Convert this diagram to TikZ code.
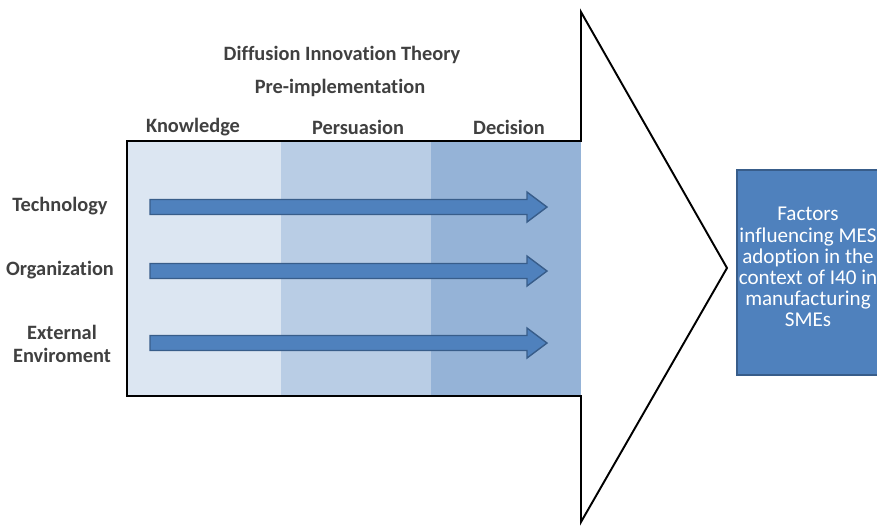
\documentclass[tikz,border=0pt]{standalone}
\usepackage{fontspec}
\setmainfont[Ligatures=NoCommon]{Carlito}
\usepackage{tikz}
\definecolor{bandA}{HTML}{DCE6F2}
\definecolor{bandB}{HTML}{B9CDE5}
\definecolor{bandC}{HTML}{95B3D7}
\definecolor{arrowfill}{HTML}{4F81BD}
\definecolor{arrowline}{HTML}{385D8A}
\definecolor{txt}{HTML}{404040}
\tikzset{
  lbl/.style={font=\bfseries\fontsize{11.6}{13.3}\selectfont, text=txt, align=center},
  factor/.style={fill=arrowfill, draw=arrowline, line width=0.8pt},
}

\begin{document}
\begin{tikzpicture}[x=0.02cm,y=-0.02cm]
\useasboundingbox (0,0) rectangle (877,525);
% bands
\fill[bandA] (127,141) rectangle (281,396);
\fill[bandB] (281,141) rectangle (431,396);
\fill[bandC] (431,141) rectangle (581,396);
% big arrow
\draw[line width=1.1pt, line join=miter] (127,141) -- (581,141) -- (581,12) -- (727,268)
  -- (581,522) -- (581,396) -- (127,396) -- cycle;
% factor arrows
\foreach \y in {207,271,343}
  \draw[factor] (150,\y-7.5) -- (527,\y-7.5) -- (527,\y-15) -- (547,\y)
    -- (527,\y+15) -- (527,\y+7.5) -- (150,\y+7.5) -- cycle;
% headings
\node[lbl] (theory) at (342,55) {Diffusion Innovation Theory};
\node[lbl] (preimpl) at (340,88) {Pre-implementation};
\node[lbl] (knowledge) at (193,127) {Knowledge};
\node[lbl] (persuasion) at (358,127) {Persuasion};
\node[lbl] (decision) at (509,127) {Decision};
\node[lbl] (tech) at (60,206) {Technology};
\node[lbl] (org) at (60,270) {Organization};
\node[lbl] (ext) at (62,344) {External\\Enviroment};
% result box
\fill[arrowfill] (737,170) rectangle (890,375);
\draw[arrowline, line width=0.8pt] (890,170) -- (737,170) -- (737,375) -- (890,375);
\node[font=\fontsize{12}{12}\selectfont, text=white, align=center] (result) at (808,267)
  {Factors\\influencing MES\\adoption in the\\context of I40 in\\manufacturing\\SMEs};
\end{tikzpicture}
\end{document}
